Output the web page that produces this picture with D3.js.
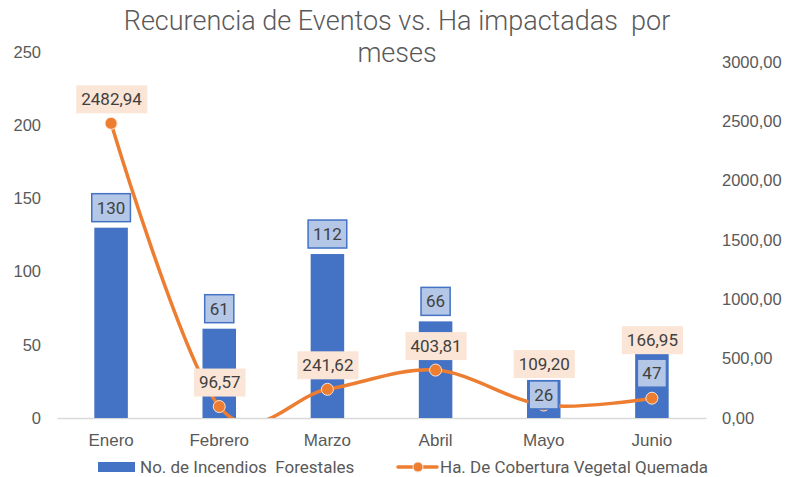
<!DOCTYPE html>
<html><head><meta charset="utf-8">
<script src="https://cdn.jsdelivr.net/npm/d3@7"></script>
<style>
html,body{margin:0;padding:0;background:#fff;}
svg{display:block;font-family:Roboto,"Liberation Sans",sans-serif;}
</style></head>
<body>
<svg id="chart" width="788" height="477"></svg>
<script>
const categories = ["Enero","Febrero","Marzo","Abril","Mayo","Junio"];
const incendios = [130,61,112,66,26,47];
const hectareas = [2482.94,96.57,241.62,403.81,109.20,166.95];
const leftTicks = [0,50,100,150,200,250];
const rightTicks = [0,500,1000,1500,2000,2500,3000];
const seriesNames = ["No. de Incendios  Forestales","Ha. De Cobertura Vegetal Quemada"];
const titleLines = ["Recurencia de Eventos vs. Ha impactadas  por","meses"];

const svg = d3.select("#chart");
const textColor = "#595959";
const labelColor = "#404040";
const blue = "#4472C4", orange = "#ED7D31";

const plot = {left:57, right:706, bottom:418};
const x = d3.scaleBand().domain(categories).range([plot.left, plot.right]).paddingInner(0.69).paddingOuter(0.345);
const yL = d3.scaleLinear().domain([0,250]).range([plot.bottom, 52]);
const yR = d3.scaleLinear().domain([0,3000]).range([plot.bottom, 62]);
const cx = c => x(c) + x.bandwidth()/2;

const loc = d3.formatLocale({decimal:",", thousands:".", grouping:[3], currency:["",""]});
const fmt2 = loc.format(".2f");

// Title
svg.append("g").selectAll("text").data(titleLines).join("text")
  .attr("x", 397).attr("y", (d,i)=>30 + i*32)
  .attr("text-anchor","middle").attr("font-size",27).attr("font-weight",300)
  .attr("fill", textColor).style("white-space","pre").text(d=>d);

// Axes
const axL = svg.append("g").attr("transform",`translate(41,0)`)
  .call(d3.axisLeft(yL).tickValues(leftTicks).tickSize(0).tickPadding(0));
axL.select(".domain").remove();
axL.selectAll("text").attr("font-size",16.5).attr("fill",textColor).attr("font-family",null);

const axR = svg.append("g").attr("transform",`translate(722,0)`)
  .call(d3.axisRight(yR).tickValues(rightTicks).tickSize(0).tickPadding(0).tickFormat(fmt2));
axR.select(".domain").remove();
axR.selectAll("text").attr("font-size",16.5).attr("fill",textColor).attr("font-family",null);

const axB = svg.append("g").attr("transform",`translate(0,${plot.bottom})`)
  .call(d3.axisBottom(x).tickSize(0).tickPadding(16));
axB.select(".domain").attr("stroke","#D9D9D9").attr("stroke-width",1.5);
axB.selectAll("text").attr("font-size",17).attr("fill",textColor).attr("font-family",null);

// Bars
svg.append("g").selectAll("rect").data(incendios).join("rect")
  .attr("x",(d,i)=>x(categories[i])).attr("width",x.bandwidth())
  .attr("y",d=>yL(d)).attr("height",d=>yL(0)-yL(d)).attr("fill",blue);

// Line (clipped to plot area)
svg.append("defs").append("clipPath").attr("id","clip")
  .append("rect").attr("x",0).attr("y",0).attr("width",788).attr("height",plot.bottom);
const line = d3.line().x((d,i)=>cx(categories[i])).y(d=>yR(d)).curve(d3.curveCardinal.tension(0));
svg.append("path").datum(hectareas).attr("d",line).attr("fill","none")
  .attr("stroke",orange).attr("stroke-width",3.5).attr("stroke-linecap","round")
  .attr("clip-path","url(#clip)");
svg.append("g").selectAll("circle").data(hectareas).join("circle")
  .attr("cx",(d,i)=>cx(categories[i])).attr("cy",d=>yR(d)).attr("r",6)
  .attr("fill",orange).attr("stroke","#FBE5D6").attr("stroke-width",1);

// Labels helper
function boxLabel(g, cxp, cyp, txt, fill, stroke){
  const grp = g.append("g");
  const r = grp.append("rect");
  const t = grp.append("text").attr("x",cxp).attr("y",cyp).attr("dy","0.35em")
    .attr("text-anchor","middle").attr("font-size",17).attr("fill",labelColor).text(txt);
  const bb = t.node().getBBox();
  r.attr("x",bb.x-5).attr("y",cyp-14).attr("width",bb.width+10).attr("height",28)
   .attr("fill",fill).attr("stroke",stroke||"none").attr("stroke-width",stroke?1.5:0);
}

// Line labels: above point; shifted higher where bar labels collide
const lineLabelShift = [24,24,24,24,41,58];
const lg = svg.append("g");
hectareas.forEach((d,i)=>boxLabel(lg, cx(categories[i])+0.5, yR(d)-lineLabelShift[i], fmt2(d), "#FBE5D6"));

// Bar labels: outside end, except inside for last two
const barLabelShift = [-20,-20,-20,-20,15,24];
const bg = svg.append("g");
incendios.forEach((d,i)=>boxLabel(bg, cx(categories[i]), yL(d)+barLabelShift[i], String(d), "#B4C7E7", blue));

// Legend
const leg = svg.append("g");
leg.append("rect").attr("x",98).attr("y",462).attr("width",37).attr("height",10).attr("fill",blue);
leg.append("text").attr("x",140).attr("y",467).attr("dy","0.35em").attr("font-size",17)
  .attr("fill",textColor).style("white-space","pre").text(seriesNames[0]);
leg.append("line").attr("x1",398).attr("x2",437).attr("y1",467).attr("y2",467)
  .attr("stroke",orange).attr("stroke-width",3.5).attr("stroke-linecap","round");
leg.append("circle").attr("cx",418).attr("cy",467).attr("r",5).attr("fill",orange)
  .attr("stroke","#FBE5D6").attr("stroke-width",1);
leg.append("text").attr("x",440).attr("y",467).attr("dy","0.35em").attr("font-size",17)
  .attr("fill",textColor).text(seriesNames[1]);
</script>
</body></html>
